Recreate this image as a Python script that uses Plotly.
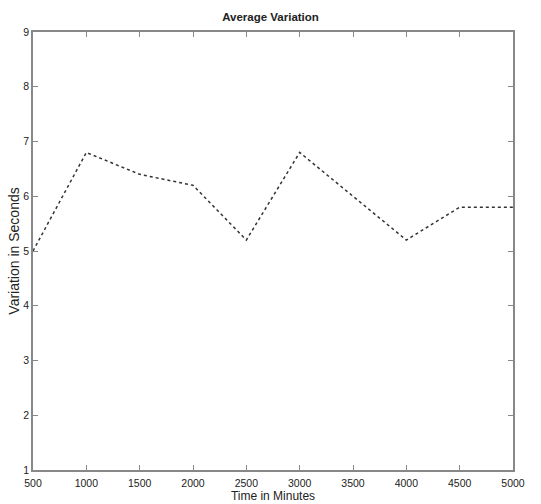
import plotly.graph_objects as go

time_minutes = [500, 1000, 1500, 2000, 2500, 3000, 3500, 4000, 4500, 5000]
variation_seconds = [5.0, 6.8, 6.4, 6.2, 5.2, 6.8, 6.0, 5.2, 5.8, 5.8]
x_ticks = [500, 1000, 1500, 2000, 2500, 3000, 3500, 4000, 4500, 5000]
y_ticks = [1, 2, 3, 4, 5, 6, 7, 8, 9]

fig = go.Figure()
fig.add_trace(go.Scatter(
    x=time_minutes, y=variation_seconds, mode="lines",
    line=dict(color="#333333", width=1.5, dash="dot"),
    showlegend=False,
))

font = "Liberation Sans, Arial, sans-serif"
axis_common = dict(
    showgrid=False, zeroline=False, showline=True, linecolor="#888888",
    linewidth=1.5, mirror="ticks", ticks="inside", ticklen=5,
    tickcolor="#888888", tickfont=dict(family=font, size=10.5, color="#222222"),
    automargin=False,
)
fig.update_layout(
    width=541, height=504,
    margin=dict(l=33, r=28, t=32, b=34),
    paper_bgcolor="white", plot_bgcolor="white",
    title=dict(text="<b>Average Variation</b>", x=0.5, xanchor="center",
               y=1 - 17/504, yanchor="middle",
               font=dict(family=font, size=11.5, color="#222222")),
    xaxis=dict(range=[500, 5000], tickvals=x_ticks, ticktext=[str(v) for v in x_ticks],
               ticklabelstandoff=3,
               title=dict(text="Time in Minutes", standoff=1,
                          font=dict(family=font, size=12, color="#222222")),
               **axis_common),
    yaxis=dict(range=[1, 9], tickvals=y_ticks, ticktext=[str(v) for v in y_ticks],
               title=dict(text="Variation in Seconds", standoff=0,
                          font=dict(family=font, size=14, color="#222222")),
               **axis_common),
)
fig.write_html(
    "out.html",
    config={"displayModeBar": False},
    post_script="document.body.style.margin='0';document.body.style.overflow='hidden';",
)
